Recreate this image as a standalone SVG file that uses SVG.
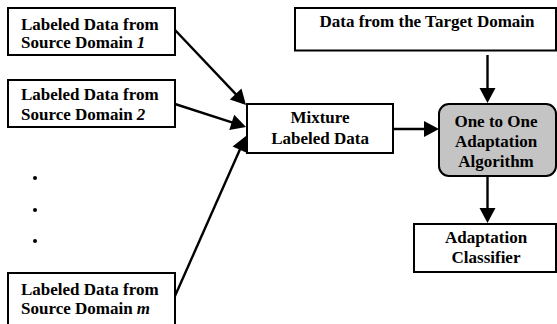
<svg xmlns="http://www.w3.org/2000/svg" width="557" height="324" viewBox="0 0 557 324">
  <style>
    .box { fill: #ffffff; stroke: #000000; stroke-width: 2; }
    .algo { fill: #c4c4c4; stroke: #000000; stroke-width: 2; }
    .lbl { font-family: "Liberation Serif", "Times New Roman", serif; font-weight: bold; font-size: 17px; fill: #000000; }
    .mid { text-anchor: middle; }
    .conn { stroke: #000000; stroke-width: 2.4; fill: none; marker-end: url(#head); }
  </style>
  <defs>
    <marker id="head" markerUnits="userSpaceOnUse" markerWidth="17" markerHeight="17" refX="5" refY="8" orient="auto" overflow="visible">
      <path d="M0,0 L15,8 L0,16 Z" fill="#000000"/>
    </marker>
  </defs>
  <rect width="557" height="324" fill="#ffffff"/>

  <g id="source1">
    <rect class="box" x="8" y="8" width="167" height="47"/>
    <text class="lbl" x="21" y="29.5">Labeled Data from</text>
    <text class="lbl" x="21" y="48">Source Domain <tspan font-style="italic">1</tspan></text>
  </g>

  <g id="source2">
    <rect class="box" x="8" y="80" width="167" height="47"/>
    <text class="lbl" x="21" y="100">Labeled Data from</text>
    <text class="lbl" x="21" y="120">Source Domain <tspan font-style="italic">2</tspan></text>
  </g>

  <g id="ellipsis">
    <circle cx="35" cy="178" r="2"/>
    <circle cx="35" cy="210" r="2"/>
    <circle cx="35" cy="241" r="2"/>
  </g>

  <g id="sourceM">
    <rect class="box" x="8" y="273" width="167" height="60"/>
    <text class="lbl" x="21" y="295">Labeled Data from</text>
    <text class="lbl" x="21" y="314">Source Domain <tspan font-style="italic">m</tspan></text>
  </g>

  <g id="mixture">
    <rect class="box" x="247" y="104" width="146" height="49"/>
    <text class="lbl mid" x="320" y="123">Mixture</text>
    <text class="lbl mid" x="320" y="144">Labeled Data</text>
  </g>

  <g id="target">
    <rect class="box" x="295" y="8" width="261" height="42.5"/>
    <text class="lbl mid" x="427" y="27">Data from the Target Domain</text>
  </g>

  <g id="algorithm">
    <rect class="algo" x="439" y="104" width="117" height="72" rx="10" ry="10"/>
    <text class="lbl mid" x="496" y="127">One to One</text>
    <text class="lbl mid" x="496" y="147">Adaptation</text>
    <text class="lbl mid" x="496" y="167">Algorithm</text>
  </g>

  <g id="classifier">
    <rect class="box" x="414" y="224" width="142" height="48"/>
    <text class="lbl mid" x="486" y="243">Adaptation</text>
    <text class="lbl mid" x="486" y="263">Classifier</text>
  </g>

  <g id="connectors">
    <line class="conn" x1="175" y1="30" x2="239.1" y2="97.7"/>
    <line class="conn" x1="175" y1="104" x2="236.5" y2="123.9"/>
    <line class="conn" x1="175" y1="296" x2="241.9" y2="145.1"/>
    <line class="conn" x1="393" y1="129" x2="429" y2="129"/>
    <line class="conn" x1="487.5" y1="55" x2="487.5" y2="93"/>
    <line class="conn" x1="487.5" y1="176" x2="487.5" y2="213"/>
  </g>
</svg>
